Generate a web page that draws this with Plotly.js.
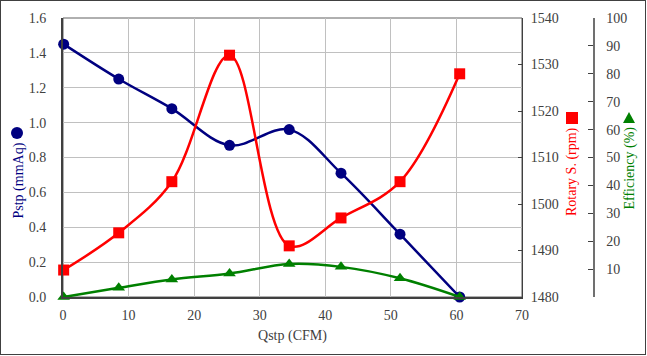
<!DOCTYPE html>
<html>
<head>
<meta charset="utf-8">
<script src="https://cdn.plot.ly/plotly-3.0.1.min.js"></script>
<style>
  html, body { margin: 0; padding: 0; background: #fff; }
  #wrap { position: relative; width: 647px; height: 356px; }
  #chart { width: 647px; height: 356px; }
  #frame { position: absolute; left: 0; top: 0; width: 646px; height: 355px; box-sizing: border-box; border: 1px solid #404040; pointer-events: none; }
  #chart .xtick text, #chart .ytick text, #chart .y2tick text, #chart .y3tick text { font-family: "Liberation Serif", serif !important; }
</style>
</head>
<body>
<div id="wrap"><div id="chart"></div><div id="frame"></div></div>
<script>
// Data
const qstp = [0.1, 8.5, 16.6, 25.4, 34.5, 42.4, 51.4, 60.5];
const pstp = [1.45, 1.25, 1.08, 0.87, 0.96, 0.71, 0.36, 0.0];
const rotary = [1485.8, 1493.8, 1504.8, 1532.0, 1491.0, 1497.0, 1504.8, 1528.0];
const efficiency = [0, 3.3, 6.3, 8.4, 11.8, 10.8, 6.7, 0];
const effTicks = [0, 10, 20, 30, 40, 50, 60, 70, 80, 90, 100];
const effTickText = ['', '10', '20', '30', '40', '50', '60', '70', '80', '90', '100'];

const NAVY = '#000080', RED = '#ff0000', GREEN = '#008000';
const FONT = '"Liberation Serif", serif';
const TICKFONT = {family: FONT, size: 14, color: '#404040'};

const traces = [
  {x: qstp, y: pstp, type: 'scatter', mode: 'lines+markers', yaxis: 'y', cliponaxis: false,
   line: {color: NAVY, width: 2.5, shape: 'spline', smoothing: 1},
   marker: {symbol: 'circle', size: 11, color: NAVY}},
  {x: qstp, y: rotary, type: 'scatter', mode: 'lines+markers', yaxis: 'y2', cliponaxis: false,
   line: {color: RED, width: 2.5, shape: 'spline', smoothing: 1},
   marker: {symbol: 'square', size: 11, color: RED}},
  {x: qstp, y: efficiency, type: 'scatter', mode: 'lines+markers', yaxis: 'y3', cliponaxis: false,
   line: {color: GREEN, width: 2.5, shape: 'spline', smoothing: 1},
   marker: {symbol: 'triangle-up', size: 11, color: GREEN}}
];

const XD = 0.866;
const layout = {
  width: 647, height: 356,
  margin: {l: 63, r: 54, t: 18, b: 59},
  paper_bgcolor: '#ffffff', plot_bgcolor: '#ffffff',
  showlegend: false,
  font: {family: FONT, size: 14, color: '#404040'},
  xaxis: {
    domain: [0, XD], range: [0, 70], tick0: 0, dtick: 10,
    showgrid: true, gridcolor: '#c0c0c0', gridwidth: 1,
    showline: true, linecolor: '#404040', linewidth: 2, zeroline: false,
    ticks: '', ticklabelstandoff: 4, tickfont: TICKFONT,
    title: {text: 'Qstp (CFM)', font: {family: FONT, size: 14, color: '#404040'}, standoff: 8}
  },
  yaxis: {
    range: [0, 1.6], tick0: 0, dtick: 0.2, tickformat: '.1f',
    showgrid: true, gridcolor: '#c0c0c0', gridwidth: 1,
    showline: true, linecolor: '#404040', linewidth: 2, zeroline: false,
    ticks: '', ticklabelstandoff: 12, tickfont: TICKFONT
  },
  yaxis2: {
    overlaying: 'y', side: 'right', anchor: 'x',
    range: [1480, 1540], tick0: 1480, dtick: 10,
    showgrid: false, zeroline: false,
    showline: true, linecolor: '#404040', linewidth: 1,
    ticks: 'inside', ticklen: 4, tickcolor: '#404040', ticklabelstandoff: 5, tickfont: TICKFONT
  },
  yaxis3: {
    overlaying: 'y', side: 'right', anchor: 'free', position: 1,
    range: [0, 100], tickmode: 'array', tickvals: effTicks, ticktext: effTickText,
    showgrid: false, zeroline: false,
    showline: true, linecolor: '#707070', linewidth: 1.5,
    ticks: 'inside', ticklen: 5, tickcolor: '#404040', ticklabelstandoff: 9, tickfont: TICKFONT
  },
  shapes: [
    {type: 'rect', xref: 'paper', yref: 'paper', x0: 0, x1: XD, y0: 0, y1: 1,
     line: {color: '#606060', width: 1}, layer: 'between'},
    {type: 'circle', xref: 'paper', yref: 'paper', xsizemode: 'pixel', ysizemode: 'pixel',
     xanchor: 0, yanchor: (297 - 133) / 279, x0: -52, x1: -40, y0: -6, y1: 6,
     fillcolor: NAVY, line: {width: 0}},
    {type: 'rect', xref: 'paper', yref: 'paper', xsizemode: 'pixel', ysizemode: 'pixel',
     xanchor: 0, yanchor: (297 - 118) / 279, x0: 503, x1: 515, y0: -6, y1: 6,
     fillcolor: RED, line: {width: 0}},
    {type: 'path', xref: 'paper', yref: 'paper', xsizemode: 'pixel', ysizemode: 'pixel',
     xanchor: 0, yanchor: (297 - 117.5) / 279, path: 'M560,-5.5 L572,-5.5 L566,5.5 Z',
     fillcolor: GREEN, line: {width: 0}}
  ],
  annotations: [
    {text: 'Pstp (mmAq)', xref: 'paper', yref: 'paper', x: 0, xshift: -45, y: (297 - 180.5) / 279,
     textangle: -90, showarrow: false, xanchor: 'center', yanchor: 'middle',
     font: {family: FONT, size: 14, color: NAVY}},
    {text: 'Rotary S. (rpm)', xref: 'paper', yref: 'paper', x: 0, xshift: 509, y: (297 - 172) / 279,
     textangle: -90, showarrow: false, xanchor: 'center', yanchor: 'middle',
     font: {family: FONT, size: 14, color: RED}},
    {text: 'Efficiency (%)', xref: 'paper', yref: 'paper', x: 0, xshift: 566, y: (297 - 168.5) / 279,
     textangle: -90, showarrow: false, xanchor: 'center', yanchor: 'middle',
     font: {family: FONT, size: 14, color: GREEN}}
  ]
};

Plotly.newPlot('chart', traces, layout, {displayModeBar: false, staticPlot: true});
</script>
</body>
</html>
